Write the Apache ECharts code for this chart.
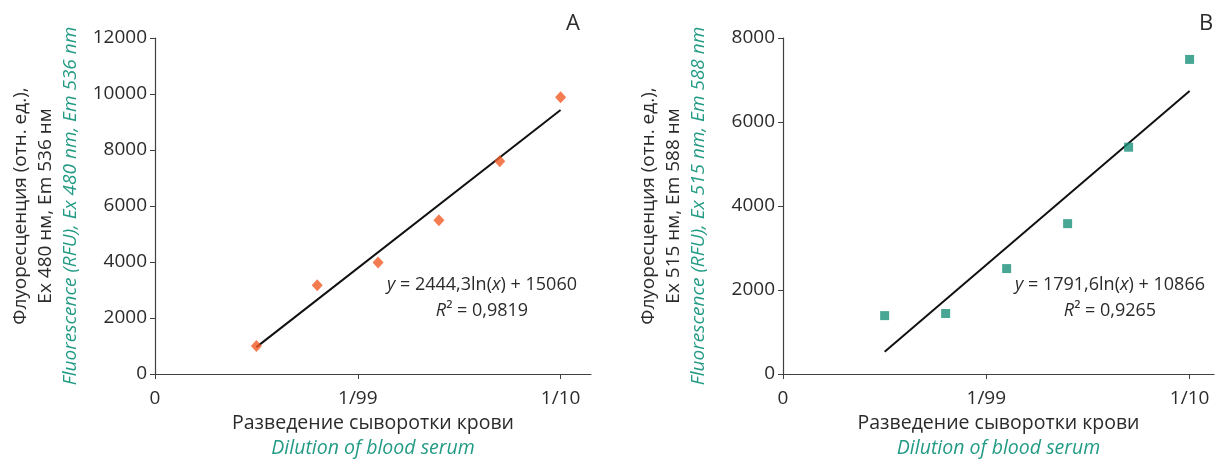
<!DOCTYPE html>
<html>
<head>
<meta charset="utf-8">
<script src="https://cdn.jsdelivr.net/npm/echarts@6/dist/echarts.min.js"></script>
<style>html,body{margin:0;padding:0;background:#fff}#c{width:1215px;height:459px}</style>
</head>
<body>
<div id="c"></div>
<script>
// Data (x positions: 0 = "0", 1 = "1/99", 2 = "1/10")
const xTickValues = [0, 1, 2];
const xTickLabels = ['0', '1/99', '1/10'];
const xA = [0.5, 0.8, 1.1, 1.4, 1.7, 2.0];
const yA = [1000, 3170, 3980, 5490, 7600, 9880];
const trendA = [[0.5, 960], [2.0, 9430]];
const xB = [0.5, 0.8, 1.1, 1.4, 1.7, 2.0];
const yB = [1390, 1440, 2510, 3580, 5400, 7490];
const trendB = [[0.5, 530], [2.0, 6740]];
const eqA = ['2444,3ln', ' + 15060', '0,9819'];
const eqB = ['1791,6ln', ' + 10866', '0,9265'];

const FONT = '"Open Sans", "Noto Sans", sans-serif';
const BLACK = '#2b2b2b';
const TEAL = '#239b84';
const AXIS = '#404040';

function fmtX(v) {
  const i = xTickValues.indexOf(v);
  return i >= 0 ? xTickLabels[i] : '';
}

function xAxis(gi, max) {
  return {
    type: 'value', gridIndex: gi, min: 0, max: max,
    axisLine: {show: true, lineStyle: {color: AXIS, width: 1.2}},
    axisTick: {show: true, length: 5, lineStyle: {color: AXIS}, customValues: xTickValues},
    axisLabel: {color: BLACK, fontSize: 19, fontFamily: FONT, margin: 15, formatter: fmtX, customValues: xTickValues},
    splitLine: {show: false},
    name: '{a|Разведение сыворотки крови}\n{b|Dilution of blood serum}',
    nameLocation: 'middle', nameGap: 37,
    nameTextStyle: {
      rich: {
        a: {color: BLACK, fontSize: 19.5, fontFamily: FONT, lineHeight: 25, align: 'center'},
        b: {color: TEAL, fontSize: 19.5, fontFamily: FONT, fontStyle: 'italic', lineHeight: 25, align: 'center'}
      }
    }
  };
}

function yAxis(gi, max, interval, l2, l3, gap) {
  return {
    type: 'value', gridIndex: gi, min: 0, max: max, interval: interval,
    axisLine: {show: true, lineStyle: {color: AXIS, width: 1.2}},
    axisTick: {show: true, length: 5, lineStyle: {color: AXIS}},
    axisLabel: {color: BLACK, fontSize: 19, fontFamily: FONT, margin: 8, formatter: v => String(v)},
    splitLine: {show: false},
    name: '{a|Флуоресценция (отн. ед.),}\n{a|' + l2 + '}\n{b|' + l3 + '}',
    nameLocation: 'middle', nameGap: gap, nameRotate: 90,
    nameTextStyle: {
      rich: {
        a: {color: BLACK, fontSize: 19, fontFamily: FONT, lineHeight: 25, align: 'center'},
        b: {color: TEAL, fontSize: 19, fontFamily: FONT, fontStyle: 'italic', lineHeight: 25, align: 'center'}
      }
    }
  };
}

function eqText(p) {
  return '{i|y} = ' + p[0] + '({i|x})' + p[1] + '\n{i|R}² = ' + p[2];
}

function eqGraphic(x, p) {
  return {type: 'text', x: x, y: 272, style: {
    text: eqText(p), fontSize: 18, fontFamily: FONT, fill: BLACK, align: 'center', lineHeight: 26,
    rich: {i: {fontStyle: 'italic', fontSize: 18, fontFamily: FONT, fill: BLACK}}
  }};
}

const chart = echarts.init(document.getElementById('c'), null, {renderer: 'canvas'});
chart.setOption({
  animation: false,
  grid: [
    {left: 155, top: 38, width: 436, height: 336, outerBoundsMode: 'none', containLabel: false},
    {left: 783, top: 38, width: 431, height: 336, outerBoundsMode: 'none', containLabel: false}
  ],
  xAxis: [xAxis(0, 2.15), xAxis(1, 2.12)],
  yAxis: [
    yAxis(0, 12000, 2000, 'Ex 480 нм, Em 536 нм', 'Fluorescence (RFU), Ex 480 nm, Em 536 nm', 72),
    yAxis(1, 8000, 2000, 'Ex 515 нм, Em 588 нм', 'Fluorescence (RFU), Ex 515 nm, Em 588 nm', 72)
  ],
  series: [
    {type: 'line', xAxisIndex: 0, yAxisIndex: 0, data: trendA, showSymbol: false, symbol: 'none',
      lineStyle: {color: '#111', width: 2}, z: 2},
    {type: 'scatter', xAxisIndex: 0, yAxisIndex: 0, data: xA.map((x, i) => [x, yA[i]]),
      symbol: 'diamond', symbolSize: [11, 12], itemStyle: {color: '#f15a24'}, z: 3},
    {type: 'line', xAxisIndex: 1, yAxisIndex: 1, data: trendB, showSymbol: false, symbol: 'none',
      lineStyle: {color: '#111', width: 2}, z: 2},
    {type: 'scatter', xAxisIndex: 1, yAxisIndex: 1, data: xB.map((x, i) => [x, yB[i]]),
      symbol: 'rect', symbolSize: 9, itemStyle: {color: '#1a9179'}, z: 3}
  ],
  graphic: [
    {type: 'text', left: 566, top: 13, style: {text: 'A', fontSize: 22, fontFamily: FONT, fill: BLACK}},
    {type: 'text', left: 1199, top: 13, style: {text: 'B', fontSize: 22, fontFamily: FONT, fill: BLACK}},
    eqGraphic(482, eqA),
    eqGraphic(1110, eqB)
  ]
});
</script>
</body>
</html>
